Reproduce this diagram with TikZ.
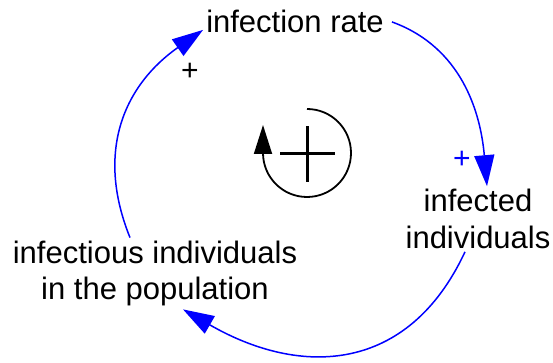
\documentclass[tikz,border=0pt]{standalone}
\usepackage{fontspec}
\setmainfont{Liberation Sans}
\usetikzlibrary{arrows.meta}

\begin{document}
\begin{tikzpicture}[x=1pt, y=1pt,
  var/.style={inner sep=3pt, align=center, font=\fontsize{31}{36.5}\selectfont},
  link/.style={blue, line width=1.5pt, -{Triangle[length=31pt, width=20pt]}},
  pol/.style={font=\fontsize{30}{30}\selectfont}]
\useasboundingbox (0,0) rectangle (553,363);
\node[var, anchor=base] (rate) at (295,330) {infection rate};
\node[var] (infected) at (478,144) {infected\\individuals};
\node[var] (pop) at (155,89.5) {infectious individuals\\in the population};
\node[pol] (p1) at (190,291) {+};
\node[pol, text=blue] (p2) at (462,203) {+};
\coordinate (loop) at (307,209);
\draw[link] ([xshift=5pt]rate.east) to[out=-20, in=95] ([xshift=9pt]infected.north);
\draw[link] ([xshift=-13pt]infected.south) to[out=-115, in=-30, looseness=1.2] ([xshift=28pt]pop.south);
\draw[link] ([xshift=-25pt]pop.north) to[out=112, in=215, looseness=1.1] ([yshift=-8pt]rate.west);
\draw[line width=1.8pt, -{Triangle[length=29pt, width=18pt]}] ([yshift=45pt]loop) arc[start angle=90, end angle=-180, radius=44pt] -- ++(0,28);
\draw[line width=3pt] ([xshift=-27pt]loop) -- ([xshift=28pt]loop) ([yshift=-28pt]loop) -- ([yshift=28pt]loop);
\end{tikzpicture}
\end{document}
